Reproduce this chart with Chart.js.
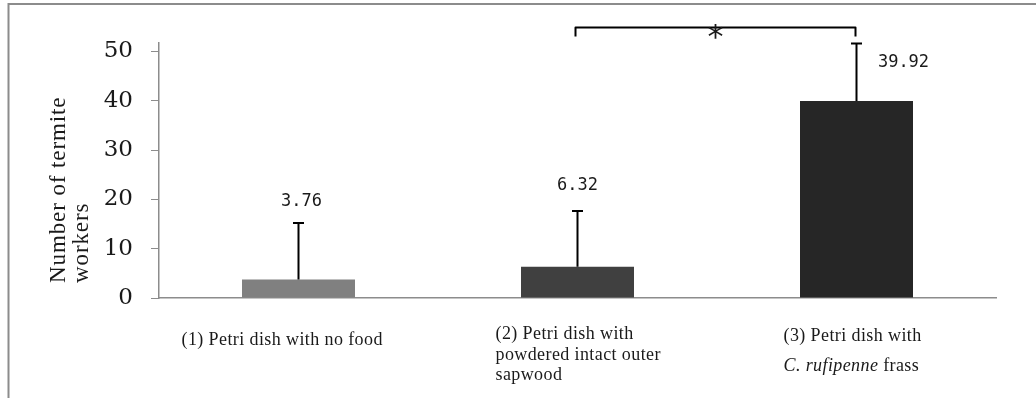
<!DOCTYPE html>
<html>
<head>
<meta charset="utf-8">
<script src="https://cdn.jsdelivr.net/npm/chart.js@4.4.0/dist/chart.umd.min.js"></script>
<style>
  body { margin: 0; background: #fff; }
  canvas { display: block; }
</style>
</head>
<body>
<canvas id="termiteChart" width="1036" height="398"></canvas>
<script>
// data
const categories = [
  ["(1) Petri dish with no food"],
  ["(2) Petri dish with", "powdered intact outer", "sapwood"],
  ["(3) Petri dish with", "C. rufipenne frass"]
];
const italicParts = ["C. rufipenne"];
const means = [3.76, 6.32, 39.92];
const errors = [11.45, 11.33, 11.7];
const valueLabels = ["3.76", "6.32", "39.92"];
const yTicks = [0, 10, 20, 30, 40, 50];
const yTitle = ["Number of termite", "workers"];
const sigPair = [1, 2];
const sigLevel = 54.85;
const sigMark = "*";

// styling
const barColors = ["#808080", "#404040", "#262626"];
const axisGray = "#8c8c8c";
const textColor = "#1a1a1a";
const labelOffsets = [[3, -21], [0, -25], [47, 19]];
const catLeft = [-117, -82, -73];
const catBaseline = [345, 339, 341];
const catLineGap = [20, 20.5, 30];

const framePlugin = {
  id: "frame",
  beforeDraw(chart) {
    const ctx = chart.ctx;
    ctx.save();
    ctx.fillStyle = "#fff";
    ctx.fillRect(0, 0, chart.width, chart.height);
    ctx.strokeStyle = axisGray;
    ctx.lineWidth = 2;
    ctx.beginPath();
    ctx.moveTo(8.5, chart.height);
    ctx.lineTo(8.5, 4);
    ctx.lineTo(chart.width, 4);
    ctx.stroke();
    ctx.restore();
  }
};

const errorBarPlugin = {
  id: "errorBars",
  afterDatasetsDraw(chart) {
    const ctx = chart.ctx;
    const y = chart.scales.y;
    const bars = chart.getDatasetMeta(0).data;
    ctx.save();
    ctx.strokeStyle = "#000";
    ctx.lineWidth = 2;
    ctx.beginPath();
    bars.forEach((bar, i) => {
      const top = y.getPixelForValue(means[i] + errors[i]);
      ctx.moveTo(bar.x, bar.y);
      ctx.lineTo(bar.x, top);
      ctx.moveTo(bar.x - 5.5, top);
      ctx.lineTo(bar.x + 5.5, top);
    });
    ctx.stroke();
    ctx.restore();
  }
};

function drawLine(ctx, text, x, y) {
  const italic = italicParts.find((p) => text.startsWith(p));
  if (!italic) {
    ctx.font = "18px 'Liberation Serif'";
    ctx.fillText(text, x, y);
    return;
  }
  ctx.font = "italic 18px 'Liberation Serif'";
  ctx.fillText(italic, x, y);
  const w = ctx.measureText(italic).width;
  ctx.font = "18px 'Liberation Serif'";
  ctx.fillText(text.slice(italic.length), x + w, y);
}

const textPlugin = {
  id: "texts",
  afterDraw(chart) {
    const ctx = chart.ctx;
    const y = chart.scales.y;
    const bars = chart.getDatasetMeta(0).data;
    ctx.save();
    ctx.fillStyle = textColor;

    // value labels
    ctx.font = "17px 'DejaVu Sans Mono'";
    ctx.textAlign = "center";
    ctx.textBaseline = "middle";
    bars.forEach((bar, i) => {
      const top = y.getPixelForValue(means[i] + errors[i]);
      ctx.fillText(valueLabels[i], bar.x + labelOffsets[i][0], top + labelOffsets[i][1]);
    });

    // category labels
    ctx.textAlign = "left";
    ctx.textBaseline = "alphabetic";
    ctx.letterSpacing = "0.4px";
    bars.forEach((bar, i) => {
      categories[i].forEach((line, j) => {
        drawLine(ctx, line, bar.x + catLeft[i], catBaseline[i] + j * catLineGap[i]);
      });
    });

    // y axis title
    ctx.font = "23px 'Liberation Serif'";
    ctx.letterSpacing = "0.9px";
    const titleX = [65, 88];
    yTitle.forEach((line, j) => {
      ctx.save();
      ctx.translate(titleX[j], 283);
      ctx.rotate(-Math.PI / 2);
      ctx.fillText(line, 0, 0);
      ctx.restore();
    });
    ctx.letterSpacing = "0px";

    // significance bracket
    const x1 = bars[sigPair[0]].x - 2;
    const x2 = bars[sigPair[1]].x - 1;
    const by = y.getPixelForValue(sigLevel);
    ctx.strokeStyle = "#000";
    ctx.lineWidth = 2;
    ctx.lineJoin = "round";
    ctx.beginPath();
    ctx.moveTo(x1, by + 9);
    ctx.lineTo(x1, by);
    ctx.lineTo(x2, by);
    ctx.lineTo(x2, by + 9);
    ctx.stroke();

    ctx.font = "32px 'DejaVu Sans'";
    ctx.textAlign = "center";
    const m = ctx.measureText(sigMark);
    const base = by + 4 + (m.actualBoundingBoxAscent - m.actualBoundingBoxDescent) / 2;
    ctx.fillText(sigMark, (x1 + x2) / 2, base);
    ctx.restore();
  }
};

const chart = new Chart(document.getElementById("termiteChart"), {
  type: "bar",
  data: {
    labels: categories,
    datasets: [{
      data: means,
      backgroundColor: barColors,
      borderWidth: 0,
      barPercentage: 0.405,
      categoryPercentage: 1
    }]
  },
  options: {
    responsive: false,
    animation: false,
    devicePixelRatio: 1,
    layout: { padding: { top: 43, right: 40, left: 0, bottom: 0 } },
    plugins: {
      legend: { display: false },
      tooltip: { enabled: false }
    },
    scales: {
      x: {
        grid: { display: false },
        border: { color: axisGray, width: 1.5 },
        ticks: { display: false },
        afterFit(scale) { scale.height = 100; }
      },
      y: {
        min: 0,
        max: 51.7,
        afterBuildTicks(scale) { scale.ticks = yTicks.map((v) => ({ value: v })); },
        ticks: {
          font: { family: "DejaVu Serif", size: 23 },
          color: textColor,
          padding: 18
        },
        grid: { drawOnChartArea: false, tickLength: 8, color: axisGray, tickColor: axisGray },
        border: { color: axisGray, width: 1.5 },
        afterFit(scale) { scale.width = 159; }
      }
    }
  },
  plugins: [framePlugin, errorBarPlugin, textPlugin]
});
</script>
</body>
</html>
